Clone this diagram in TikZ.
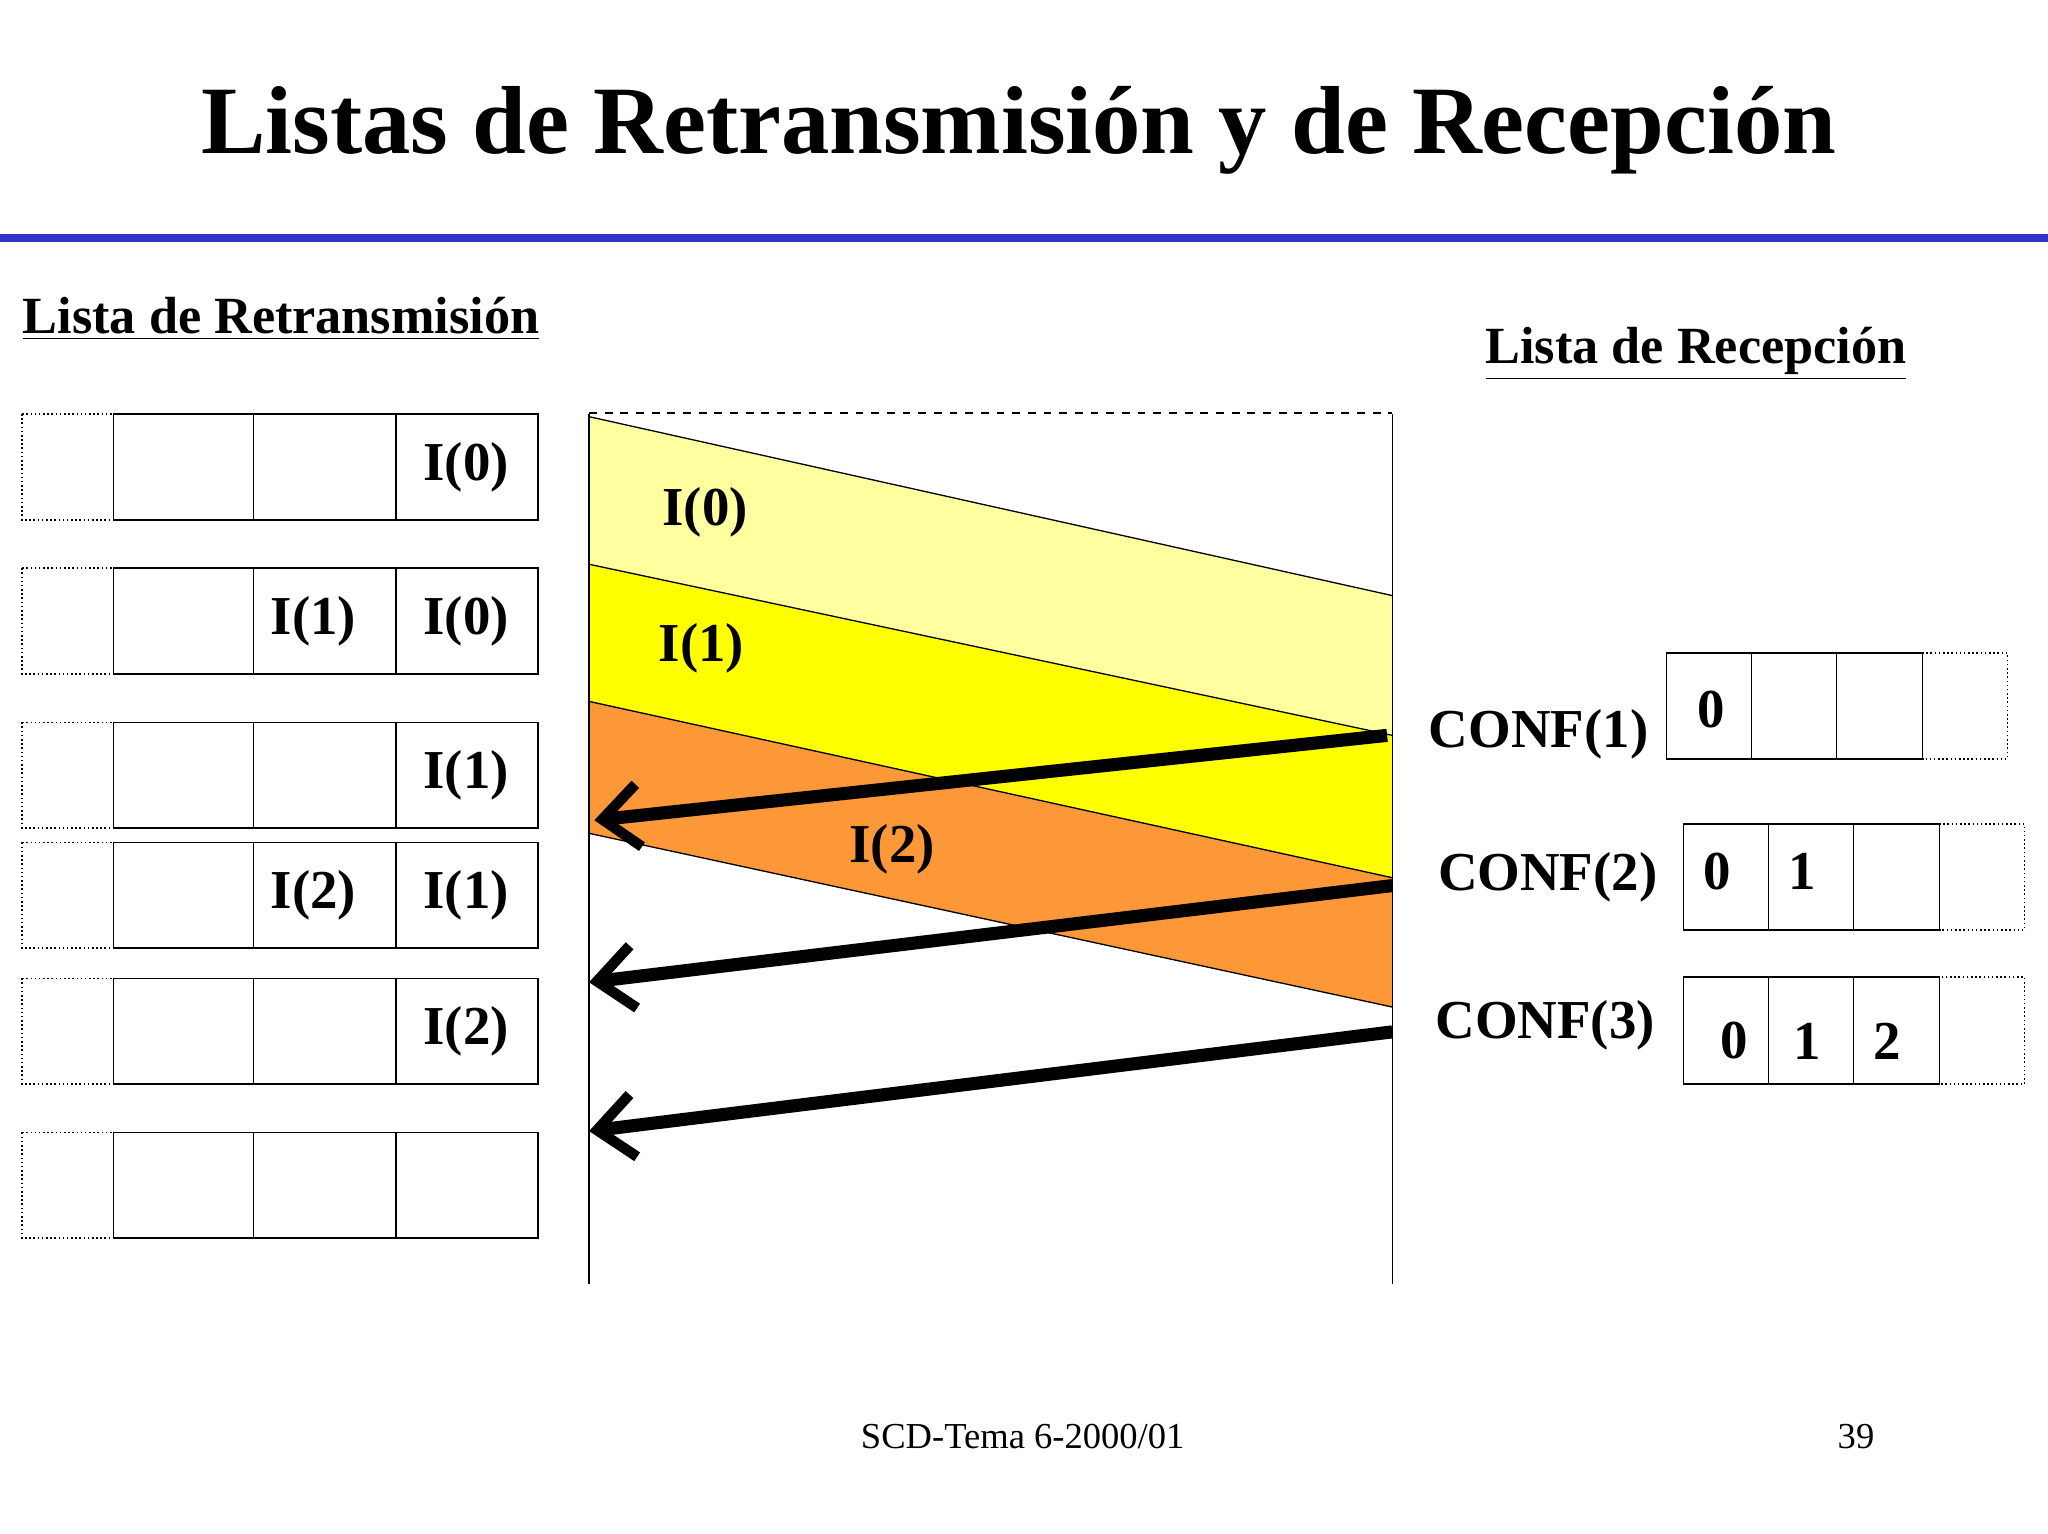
\documentclass[tikz,border=0pt]{standalone}
\usepackage{fontspec}
\setmainfont{Liberation Serif}
\usetikzlibrary{arrows.meta}
\definecolor{lyel}{RGB}{255,255,160}
\definecolor{yel}{RGB}{255,255,0}
\definecolor{ora}{RGB}{253,152,56}
\definecolor{blu}{RGB}{50,50,200}
\begin{document}
\begin{tikzpicture}[x=0.5pt,y=-0.5pt,
  lbl/.style={font=\bfseries\fontsize{21}{24}\selectfont,inner sep=0},
  sbox/.style={draw,line width=0.6pt},
  dbox/.style={draw,densely dotted,line width=0.6pt},
  band/.style={draw=black,line width=0.5pt},
  ack/.style={line width=5pt,-{Straight Barb[length=14pt,width=24pt,line width=4pt]}}]
\useasboundingbox (0,0) rectangle (1568,1174);
\node[font=\bfseries\fontsize{37}{42}\selectfont] (title) at (780,100) {Listas de Retransmisión y de Recepción};
\fill[blu] (0,179) rectangle (1568,185);
\node[font=\bfseries\fontsize{20}{24}\selectfont,anchor=west,inner sep=0] (lr) at (17,244) {\underline{Lista de Retransmisión}};
\node[font=\bfseries\fontsize{20}{24}\selectfont,anchor=west,inner sep=0] (lrec) at (1137,271) {\underline{Lista de Recepción}};
% left lists
\foreach \t/\b/\ta/\tb/\n in {317/398//I(0)/1,435/516/I(1)/I(0)/2,553/634//I(1)/3,645/726/I(2)/I(1)/4,749/830//I(2)/5,867/948///6}{
  \draw[dbox] (17,\t) rectangle (87,\b);
  \draw[sbox] (87,\t) rectangle (194,\b);
  \draw[sbox] (194,\t) rectangle (303,\b);
  \draw[sbox] (303,\t) rectangle (412,\b);
  \node[lbl] (la\n) at (240,{(\t+\b)/2}) {\ta};
  \node[lbl] (lb\n) at (357,{(\t+\b)/2}) {\tb};
}
% bands
\fill[lyel] (451,319) -- (1066,456) -- (1066,563) -- (451,432) -- cycle;
\fill[yel] (451,432) -- (1066,563) -- (1066,672) -- (451,537) -- cycle;
\fill[ora] (451,537) -- (1066,672) -- (1066,771) -- (451,638) -- cycle;
\draw[band] (451,319) -- (1066,456);
\draw[band] (451,432) -- (1066,563);
\draw[band] (451,537) -- (1066,672);
\draw[band] (451,638) -- (1066,771);
\draw[line width=0.6pt] (451,317) -- (451,983);
\draw[line width=0.6pt] (1066,317) -- (1066,983);
\draw[dashed,line width=0.6pt] (451,316) -- (1066,316);
\node[lbl] (b0) at (540,392) {I(0)};
\node[lbl] (b1) at (537,496) {I(1)};
\node[lbl] (b2) at (683,650) {I(2)};
% arrows
\coordinate (s1) at (1062,563); \coordinate (e1) at (455,628);
\coordinate (s2) at (1066,678); \coordinate (e2) at (451,752);
\coordinate (s3) at (1066,790); \coordinate (e3) at (451,866);
\draw[ack] (s1) -- (e1);
\draw[ack] (s2) -- (e2);
\draw[ack] (s3) -- (e3);
% right
\node[lbl] (c1) at (1178,562) {CONF(1)};
\draw[sbox] (1276,500) rectangle (1341,581);
\draw[sbox] (1341,500) rectangle (1406,581);
\draw[sbox] (1406,500) rectangle (1472,581);
\draw[dbox] (1472,500) rectangle (1537,581);
\node[lbl] (r10) at (1310,543) {0};
\node[lbl] (c2) at (1185,672) {CONF(2)};
\draw[sbox] (1289,631) rectangle (1354,712);
\draw[sbox] (1354,631) rectangle (1419,712);
\draw[sbox] (1419,631) rectangle (1485,712);
\draw[dbox] (1485,631) rectangle (1550,712);
\node[lbl] (r20) at (1315,667) {0};
\node[lbl] (r21) at (1380,667) {1};
\node[lbl] (c3) at (1183,785) {CONF(3)};
\draw[sbox] (1289,748) rectangle (1354,830);
\draw[sbox] (1354,748) rectangle (1419,830);
\draw[sbox] (1419,748) rectangle (1485,830);
\draw[dbox] (1485,748) rectangle (1550,830);
\node[lbl] (r30) at (1328,797) {0};
\node[lbl] (r31) at (1384,797) {1};
\node[lbl] (r32) at (1445,797) {2};
\node[font=\fontsize{14}{16}\selectfont] (foot) at (783,1100) {SCD-Tema 6-2000/01};
\node[font=\fontsize{14}{16}\selectfont] (pg) at (1421,1100) {39};
\end{tikzpicture}
\end{document}
